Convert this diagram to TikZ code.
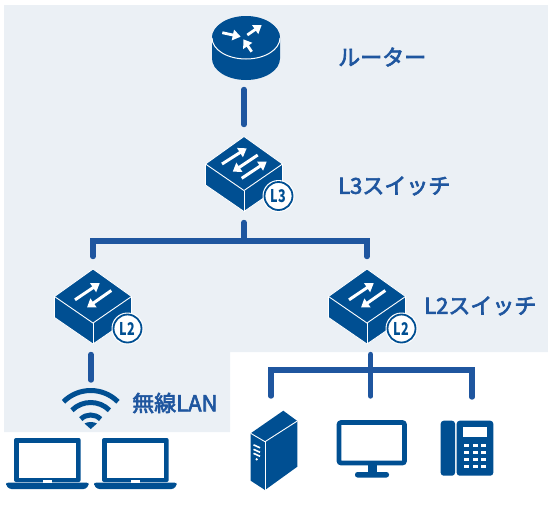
\documentclass[tikz,border=0pt]{standalone}
\usepackage{fontspec}
\newfontfamily\cjk{Noto Sans CJK JP}
\newfontfamily\cjkm[FakeBold=3]{Noto Sans CJK JP}
\usetikzlibrary{arrows.meta}
\definecolor{panelbg}{HTML}{EBF0F5}
\definecolor{iconblue}{HTML}{004F92}
\definecolor{linkblue}{HTML}{1F569F}
\newcommand{\swbody}{%
\fill[iconblue] (0,-27.5) -- (38.5,0) -- (38.5,21) -- (0,47.5) -- (-38.5,21) -- (-38.5,0) -- cycle;
\draw[white,line width=0.9pt] (-38.5,0) -- (0,26.5) -- (38.5,0);
\draw[white,line width=0.9pt] (0,26.5) -- (0,47.5);
\draw[white,line width=0.8pt,line join=round] (0,-27.5) -- (38.5,0) -- (38.5,21) -- (0,47.5) -- (-38.5,21) -- (-38.5,0) -- cycle;}
\newcommand{\swbadge}[1]{%
\fill[white] (34.5,32) circle[radius=16];
\draw[iconblue,line width=1.8pt] (34.5,32) circle[radius=14];
\node[badgetext] (badge#1) at (34.5,32) {\scalebox{.72}[1]{#1}};}
\tikzset{
  iconbox/.style={inner sep=0pt,outer sep=0pt,minimum width=4pt},
  swbox/.style={iconbox,minimum height=98pt},
  link/.style={linkblue,line width=5.4pt,line cap=round,line join=miter},
  lbl/.style={anchor=west,inner sep=0pt,text=linkblue,font=\cjkm\fontsize{22}{24}\selectfont},
  badgetext/.style={inner sep=0pt,text=iconblue,font=\cjk\bfseries\fontsize{17.5}{20}\selectfont},
  flow/.style={white,line width=3pt,-{Triangle[length=8pt,width=10.5pt]}},
  l3icon/.pic={\swbody
    \draw[flow] (-22,0) -- (2.7,-15.7);
    \draw[flow] (13.7,-9) -- (-11.3,7.7);
    \draw[flow] (-2.3,14.3) -- (22.7,-2.3);
    \swbadge{L3}},
  l2icon/.pic={\swbody
    \draw[flow] (-18,3.3) -- (6.7,-13.3);
    \draw[flow] (18.3,-6) -- (-6,11);
    \swbadge{L2}},
  laptop/.pic={
    \fill[iconblue,rounded corners=2pt] (0,0) rectangle (66.7,44);
    \fill[white] (4.5,4.5) rectangle (62.2,39.5);
    \fill[iconblue,rounded corners=2.5pt] (-8,44.5) -- (74.7,44.5) -- (74.7,47) -- (72,51) -- (-5,51) -- (-8,47) -- cycle;
    \fill[white] (28.5,42.3) rectangle (38.2,44.5);}
}
\begin{document}
\begin{tikzpicture}[x=1pt,y=-1pt]
\useasboundingbox (0,0) rectangle (548,512);
\fill[panelbg] (4,5) -- (548,5) -- (548,352) -- (230,352) -- (230,432) -- (4,432) -- cycle;
\node[iconbox,minimum height=80pt] (router) at (244,49.5) {};
\node[swbox] (l3sw) at (244,173.5) {};
\node[swbox] (l2left) at (93,305.5) {};
\node[swbox] (l2right) at (367,305.5) {};
\node[iconbox,minimum height=50pt] (wifi) at (91,405) {};
\node[iconbox,minimum height=96pt] (server) at (271,444) {};
\node[iconbox,minimum height=96pt] (monitor) at (370.7,444) {};
\node[iconbox,minimum height=100pt] (phone) at (472,447) {};
\coordinate (busup) at (244,241);
\coordinate (busdown) at (370.7,370);
\draw[link] (router.south) -- (l3sw.north);
\draw[link] (l3sw.south) -- (busup);
\draw[link] (l2left.north) -- (l2left.north|-busup) -- (l2right.north|-busup) -- (l2right.north);
\draw[link] (l2left.south-|wifi.north) -- (wifi.north);
\draw[link] (l2right.south-|busdown) -- (monitor.north);
\draw[link] (server.north) -- (server.north|-busdown) -- (phone.north|-busdown) -- (phone.north);
\fill[iconblue] (212,38) arc[start angle=180,end angle=360,x radius=34,y radius=21.5] -- (280,58.5) arc[start angle=0,end angle=180,x radius=34,y radius=21.5] -- cycle;
\fill[iconblue] (246,38) circle[x radius=34,y radius=22];
\draw[white,line width=1pt] (212,38) arc[start angle=180,end angle=0,x radius=34,y radius=21];
\draw[flow,line width=2.8pt] (222.3,32.7) -- (240.7,36.7);
\draw[flow,line width=2.8pt] (247.3,35) -- (261.7,25);
\draw[flow,line width=2.8pt] (251.7,51.7) -- (243.3,39.3);
\pic at (244,164) {l3icon};
\pic at (93,296.5) {l2icon};
\pic at (367,296.5) {l2icon};
\draw[iconblue,line width=5pt] (90.7,429)++(-135:38.5) arc[start angle=-135,end angle=-45,radius=38.5];
\draw[iconblue,line width=5pt] (90.7,429)++(-135:26.5) arc[start angle=-135,end angle=-45,radius=26.5];
\draw[iconblue,line width=5pt] (90.7,429)++(-135:14) arc[start angle=-135,end angle=-45,radius=14];
\fill[iconblue] (90.7,429) -- (84.5,423.5) .. controls (88,421.5) and (93.5,421.5) .. (97,423.5) -- cycle;
\pic at (14,438) {laptop};
\pic at (102,438) {laptop};
\fill[iconblue] (283.3,410.7) -- (297.3,421) -- (297.3,466.7) -- (265,490) -- (250.7,480.7) -- (250.7,433.3) -- cycle;
\draw[white,line width=0.9pt] (250.7,433.3) -- (265,441.7) -- (297.3,421);
\draw[white,line width=0.9pt] (265,441.7) -- (265,490);
\foreach \sloty in {446,450.5,454.5} \draw[white,line width=1.6pt] (253.5,\sloty-1.2) -- (260,\sloty+1.8);
\fill[white] (256.7,459.3) circle[radius=1.3];
\draw[iconblue,line width=4.6pt,rounded corners=2pt] (339,422.5) rectangle (404.5,463);
\fill[iconblue] (367.5,465) rectangle (376.5,473);
\fill[iconblue,rounded corners=2.5pt] (355,472) rectangle (389,477.5);
\fill[iconblue,rounded corners=3pt] (440.7,420.7) rectangle (455,475.7);
\fill[iconblue,rounded corners=3pt] (456.7,420.7) rectangle (493.3,475.7);
\fill[white] (462.7,427.3) rectangle (486.7,436.7);
\foreach \keyx in {466.7,475,483.3}
  \foreach \keyy in {445.3,452.4,459.3,466}
    \fill[white] (\keyx-2.5,\keyy-1.5) rectangle (\keyx+2.5,\keyy+1.5);
\node[lbl] (routerlbl) at (338,57) {ルーター};
\node[lbl] (l3lbl) at (338,186) {L3スイッチ};
\node[lbl] (l2lbl) at (424,306) {L2スイッチ};
\node[lbl] (wifilbl) at (132,403) {無線LAN};
\end{tikzpicture}
\end{document}
